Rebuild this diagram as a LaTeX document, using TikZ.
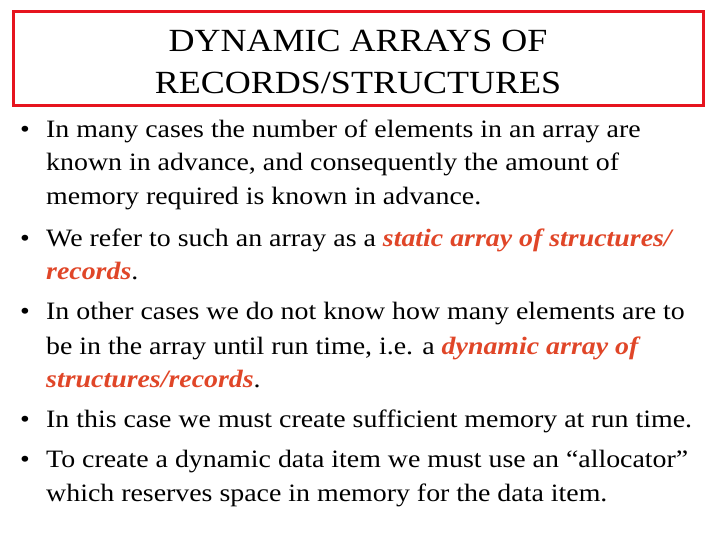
\documentclass[tikz,border=0pt]{standalone}
\usepackage{fontspec}
\setmainfont[FakeStretch=1.115]{Liberation Serif}
\definecolor{boxred}{RGB}{230,20,30}
\definecolor{hl}{RGB}{224,70,40}
\begin{document}
\begin{tikzpicture}[x=1pt,y=-1pt,
  ln/.style={anchor=base west,inner sep=0pt,font=\fontsize{25}{25}\selectfont},
  bl/.style={anchor=base west,inner sep=0pt,font=\fontsize{25}{25}\selectfont},
  tt/.style={inner sep=0pt,font=\fontsize{32.3}{32}\selectfont}]
\useasboundingbox (0,0) rectangle (720,540);
\draw[boxred,line width=3pt] (13,12) rectangle (703,106);
\node[tt] (t1) at (358,41) {DYNAMIC ARRAYS OF};
\node[tt] (t2) at (358,83) {RECORDS/STRUCTURES};
\newcommand{\hlt}[1]{\textcolor{hl}{\textbf{\textit{#1}}}}
\node[bl] (b1) at (20,138) {•};
\node[ln] (l1) at (46,138) {In many cases the number of elements in an array are};
\node[ln] (l2) at (46,171) {known in advance, and consequently the amount of};
\node[ln] (l3) at (46,205) {memory required is known in advance.};
\node[bl] (b2) at (20,246) {•};
\node[ln] (l4) at (46,246) {We refer to such an array as a \hlt{static array of structures/}};
\node[ln] (l5) at (46,279) {\hlt{records}.};
\node[bl] (b3) at (20,319) {•};
\node[ln] (l6) at (46,319) {In other cases we do not know how many elements are to};
\node[ln] (l7) at (46,354) {be in the array until run time, i.e. a \hlt{dynamic array of}};
\node[ln] (l8) at (46,387) {\hlt{structures/records}.};
\node[bl] (b4) at (20,427) {•};
\node[ln] (l9) at (46,427) {In this case we must create sufficient memory at run time.};
\node[bl] (b5) at (20,467) {•};
\node[ln] (l10) at (46,467) {To create a dynamic data item we must use an “allocator”};
\node[ln] (l11) at (46,501) {which reserves space in memory for the data item.};
\end{tikzpicture}
\end{document}
